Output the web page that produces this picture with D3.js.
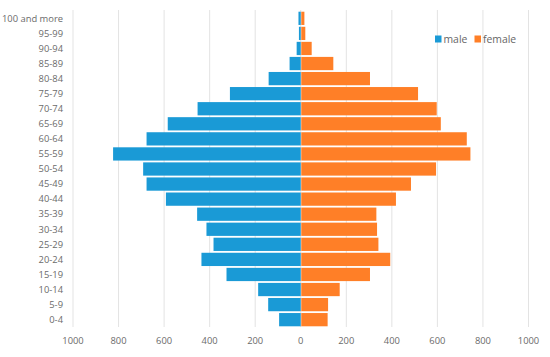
<!DOCTYPE html>
<html>
<head>
<meta charset="utf-8">
<script src="https://cdn.jsdelivr.net/npm/d3@7"></script>
<style>
  body { margin: 0; background: #fff; }
  text { font-family: "Open Sans", "Noto Sans", sans-serif; }
</style>
</head>
<body>
<svg id="chart" width="550" height="357"></svg>
<script>
let ageGroups = ["100 and more","95-99","90-94","85-89","80-84","75-79","70-74","65-69","60-64","55-59",
  "50-54","45-49","40-44","35-39","30-34","25-29","20-24","15-19","10-14","5-9","0-4"];
let male = [10,8,18,49,141,311,453,584,677,824,692,677,592,455,414,383,436,326,187,143,95];
let female = [16,20,48,143,304,515,597,615,729,745,594,484,418,332,335,341,393,304,171,120,118];
let ticks = [-1000,-800,-600,-400,-200,0,200,400,600,800,1000];
let seriesNames = ["male","female"];
let colors = ["#1a9ad6","#ff7f27"];

let svg = d3.select("#chart");

let x = d3.scaleLinear().domain([-1000,1000]).range([73,528.5]);
let y = d3.scaleBand().domain(ageGroups).range([10.8,327.2]).paddingInner(0.12).paddingOuter(0.06);

// gridlines
svg.append("g")
  .selectAll("line")
  .data(ticks)
  .enter()
  .append("line")
  .attr("x1",d => x(d)).attr("x2",d => x(d))
  .attr("y1",10).attr("y2",327)
  .attr("stroke","#e3e3e3")
  .attr("stroke-width",1);

// bars
svg.append("g")
  .selectAll("rect")
  .data(male)
  .enter()
  .append("rect")
  .attr("x",d => x(-d))
  .attr("y",(d,i) => y(ageGroups[i]))
  .attr("width",d => x(0) - x(-d))
  .attr("height",y.bandwidth())
  .attr("fill",colors[0]);

svg.append("g")
  .selectAll("rect")
  .data(female)
  .enter()
  .append("rect")
  .attr("x",x(0) + 0.5)
  .attr("y",(d,i) => y(ageGroups[i]))
  .attr("width",d => x(d) - x(0) - 0.5)
  .attr("height",y.bandwidth())
  .attr("fill",colors[1]);

// category labels
svg.append("g")
  .selectAll("text")
  .data(ageGroups)
  .enter()
  .append("text")
  .attr("x",63)
  .attr("y",d => y(d) + y.bandwidth()/2)
  .attr("dy","0.35em")
  .attr("text-anchor","end")
  .attr("font-size","9.4px")
  .attr("fill","#6b6b6b")
  .text(d => d);

// x axis labels
svg.append("g")
  .selectAll("text")
  .data(ticks)
  .enter()
  .append("text")
  .attr("x",d => x(d))
  .attr("y",341)
  .attr("dy","0.35em")
  .attr("text-anchor","middle")
  .attr("font-size","9.4px")
  .attr("fill","#6b6b6b")
  .text(d => Math.abs(d));

// legend
let legendX = [435,474.5];
let legend = svg.append("g")
  .selectAll("g")
  .data(seriesNames)
  .enter()
  .append("g")
  .attr("transform",(d,i) => "translate(" + legendX[i] + ",39)");

legend.append("rect")
  .attr("x",0).attr("y",-3.5)
  .attr("width",6.5).attr("height",7)
  .attr("fill",(d,i) => colors[i]);

legend.append("text")
  .attr("x",8.5)
  .attr("dy","0.35em")
  .attr("font-size","10.4px")
  .attr("fill","#666")
  .text(d => d);
</script>
</body>
</html>
